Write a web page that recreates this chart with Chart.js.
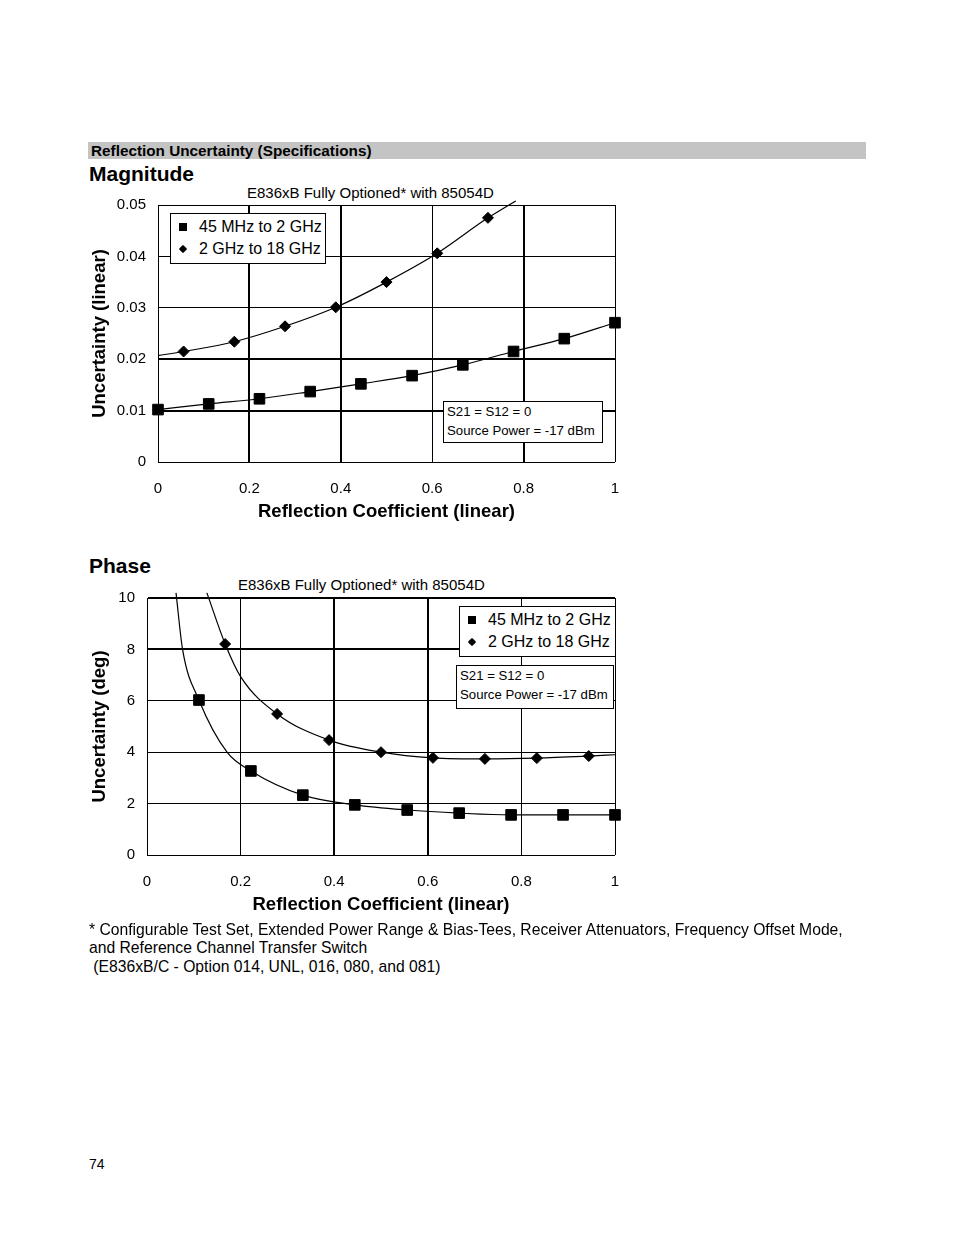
<!DOCTYPE html>
<html>
<head>
<meta charset="utf-8">
<script src="https://cdn.jsdelivr.net/npm/chart.js@4.4.1/dist/chart.umd.min.js"></script>
<style>
    body { margin: 0; background: #fff; font-family: "Liberation Sans", Arial, sans-serif; color: #000; }
    .page { position: relative; width: 954px; height: 1235px; }
    .abs { position: absolute; white-space: nowrap; }
    .bar { left: 88px; top: 142px; width: 778px; height: 17px; background: #c4c4c4; font-weight: bold; font-size: 15.3px; line-height: 17px; padding-left: 3px; box-sizing: border-box; }
    .head { font-weight: bold; font-size: 21px; left: 89px; }
    .sub { font-size: 15px; }
    .box { border: 1px solid #000; background: #fff; }
    .legend { font-size: 16px; line-height: 22px; padding: 0 6px 0 8px; }
    .note { font-size: 13.2px; line-height: 19px; padding: 0 3px; }
    .sq { display: inline-block; width: 8px; height: 8px; background: #000; margin-right: 12px; vertical-align: 1px; }
    .dm { display: inline-block; width: 6px; height: 6px; background: #000; transform: rotate(45deg); border-radius: 1px; margin: 0 13px 0 1px; vertical-align: 2px; }
    .foot { font-size: 15.7px; left: 89px; }
</style>
</head>
<body>
<div class="page">
    <div class="abs bar">Reflection Uncertainty (Specifications)</div>

    <div class="abs head" style="top:162px">Magnitude</div>
    <div class="abs sub" style="left:247px; top:184px">E836xB Fully Optioned* with 85054D</div>
    <canvas id="magChart" width="545" height="345" style="position:absolute; left:85px; top:185px;"></canvas>
    <div class="abs box legend" style="left:170px; top:213px; width:156px; height:51px; box-sizing:border-box; padding-top:2px">
        <div><span class="sq"></span>45 MHz to 2 GHz</div>
        <div><span class="dm"></span>2 GHz to 18 GHz</div>
    </div>
    <div class="abs box note" style="left:443px; top:401px; width:160px; height:42px; box-sizing:border-box; padding-top:0">
        <div>S21 = S12 = 0</div>
        <div>Source Power = -17 dBm</div>
    </div>

    <div class="abs head" style="top:554px">Phase</div>
    <div class="abs sub" style="left:238px; top:576px">E836xB Fully Optioned* with 85054D</div>
    <canvas id="phaseChart" width="545" height="345" style="position:absolute; left:85px; top:578px;"></canvas>
    <div class="abs box legend" style="left:459px; top:606px; width:157px; height:51px; box-sizing:border-box; padding-top:2px">
        <div><span class="sq"></span>45 MHz to 2 GHz</div>
        <div><span class="dm"></span>2 GHz to 18 GHz</div>
    </div>
    <div class="abs box note" style="left:456px; top:665px; width:158px; height:44px; box-sizing:border-box; padding-top:0">
        <div>S21 = S12 = 0</div>
        <div>Source Power = -17 dBm</div>
    </div>

    <div class="abs foot" style="top:921px">* Configurable Test Set, Extended Power Range &amp; Bias-Tees, Receiver Attenuators, Frequency Offset Mode,</div>
    <div class="abs foot" style="top:939px">and Reference Channel Transfer Switch</div>
    <div class="abs foot" style="top:958px">&nbsp;(E836xB/C - Option 014, UNL, 016, 080, and 081)</div>
    <div class="abs foot" style="top:1156px; font-size:14px">74</div>
</div>

<script>
// --- данные ---
// Magnitude: 45 MHz to 2 GHz (квадраты)
const magLowX = [0, 0.111, 0.222, 0.333, 0.444, 0.556, 0.667, 0.778, 0.889, 1];
const magLowY = [0.0102, 0.0113, 0.0123, 0.0137, 0.0152, 0.0168, 0.0189, 0.0215, 0.0240, 0.0271];
// Magnitude: 2 GHz to 18 GHz (ромбы)
const magHighX = [0.056, 0.167, 0.278, 0.389, 0.5, 0.611, 0.722];
const magHighY = [0.0215, 0.0234, 0.0264, 0.0301, 0.0350, 0.0406, 0.0475];
// линия тренда для ромбов (продолжается за крайние точки)
const magHighFitX = [0, 0.056, 0.167, 0.278, 0.389, 0.5, 0.611, 0.722, 0.783];
const magHighFitY = [0.0207, 0.0215, 0.0234, 0.0264, 0.0301, 0.0350, 0.0406, 0.0475, 0.0508];

// Phase: 45 MHz to 2 GHz
const phLowX = [0.111, 0.222, 0.333, 0.444, 0.556, 0.667, 0.778, 0.889, 1];
const phLowY = [6.03, 3.27, 2.33, 1.95, 1.75, 1.63, 1.56, 1.56, 1.56];
const phLowFitX = [0.062, 0.076, 0.111, 0.171, 0.222, 0.333, 0.444, 0.556, 0.667, 0.778, 0.889, 1];
const phLowFitY = [10.2, 8.0, 6.03, 4.0, 3.27, 2.33, 1.95, 1.75, 1.63, 1.56, 1.56, 1.56];
// Phase: 2 GHz to 18 GHz
const phHighX = [0.167, 0.278, 0.389, 0.5, 0.611, 0.722, 0.833, 0.944];
const phHighY = [8.21, 5.49, 4.47, 4.0, 3.78, 3.74, 3.77, 3.85];
const phHighFitX = [0.128, 0.167, 0.2, 0.278, 0.389, 0.5, 0.611, 0.722, 0.833, 0.944, 1];
const phHighFitY = [10.2, 8.21, 6.94, 5.49, 4.47, 4.0, 3.78, 3.74, 3.77, 3.85, 3.9];

// толщина линий сетки по значению тика
const magGridX = { 0.2: 2, 0.4: 2, 0.6: 1, 0.8: 2, 1: 1 };
const magGridY = { 0.01: 2, 0.02: 2, 0.03: 1, 0.04: 1, 0.05: 1 };
const phGridX = { 0.2: 1, 0.4: 2, 0.6: 2, 0.8: 1, 1: 1 };
const phGridY = { 2: 1, 4: 1, 6: 1, 8: 2, 10: 2 };

const FONT = '"Liberation Sans", Arial, sans-serif';

function toPoints(xs, ys) {
    return xs.map((x, i) => ({ x: x, y: ys[i] }));
}

function markers(xs, ys, style) {
    return {
        data: toPoints(xs, ys),
        showLine: false,
        pointStyle: style,
        pointRadius: style === 'rect' ? 7.5 : 5.5,
        pointBackgroundColor: '#000',
        pointBorderColor: '#000',
        pointBorderWidth: 1,
        clip: false
    };
}

function fitLine(xs, ys) {
    return {
        data: toPoints(xs, ys),
        showLine: true,
        borderColor: '#000',
        borderWidth: 1.2,
        pointRadius: 0,
        cubicInterpolationMode: 'monotone',
        clip: false
    };
}

function makeChart(id, datasets, yMax, yStep, yTitle, gridX, gridY, yAxisWidth) {
    const ctx = document.getElementById(id).getContext('2d');
    return new Chart(ctx, {
        type: 'scatter',
        data: { datasets: datasets },
        options: {
            responsive: false,
            animation: false,
            events: [],
            layout: { padding: { top: 20, right: 15, left: 0, bottom: 0 } },
            plugins: { legend: { display: false }, tooltip: { enabled: false } },
            scales: {
                x: {
                    type: 'linear',
                    min: 0,
                    max: 1,
                    ticks: {
                        stepSize: 0.2,
                        color: '#000',
                        font: { family: FONT, size: 15 },
                        padding: 18,
                        callback: v => String(+v.toFixed(1))
                    },
                    grid: {
                        color: '#000',
                        drawTicks: false,
                        lineWidth: c => gridX[c.tick.value] || 0
                    },
                    border: { color: '#000', width: 1 },
                    title: {
                        display: true,
                        text: 'Reflection Coefficient (linear)',
                        color: '#000',
                        font: { family: FONT, size: 18.5, weight: 'bold' },
                        padding: { top: 0, bottom: 7 }
                    },
                    afterFit: s => { s.height = 68; s.paddingLeft = 0; s.paddingRight = 0; }
                },
                y: {
                    min: 0,
                    max: yMax,
                    ticks: { stepSize: yStep, color: '#000', font: { family: FONT, size: 15 }, padding: 12 },
                    grid: {
                        color: '#000',
                        drawTicks: false,
                        lineWidth: c => gridY[c.tick.value] || 0
                    },
                    border: { color: '#000', width: 1 },
                    title: {
                        display: true,
                        text: yTitle,
                        color: '#000',
                        font: { family: FONT, size: 18.5, weight: 'bold' },
                        padding: { top: 4, bottom: 0 }
                    },
                    afterFit: s => { s.width = yAxisWidth; s.paddingTop = 0; s.paddingBottom = 0; }
                }
            }
        }
    });
}

makeChart('magChart', [
    fitLine(magLowX, magLowY),
    fitLine(magHighFitX, magHighFitY),
    markers(magLowX, magLowY, 'rect'),
    markers(magHighX, magHighY, 'rectRot')
], 0.05, 0.01, 'Uncertainty (linear)', magGridX, magGridY, 73);

makeChart('phaseChart', [
    fitLine(phLowFitX, phLowFitY),
    fitLine(phHighFitX, phHighFitY),
    markers(phLowX, phLowY, 'rect'),
    markers(phHighX, phHighY, 'rectRot')
], 10, 2, 'Uncertainty (deg)', phGridX, phGridY, 62);
</script>
</body>
</html>
